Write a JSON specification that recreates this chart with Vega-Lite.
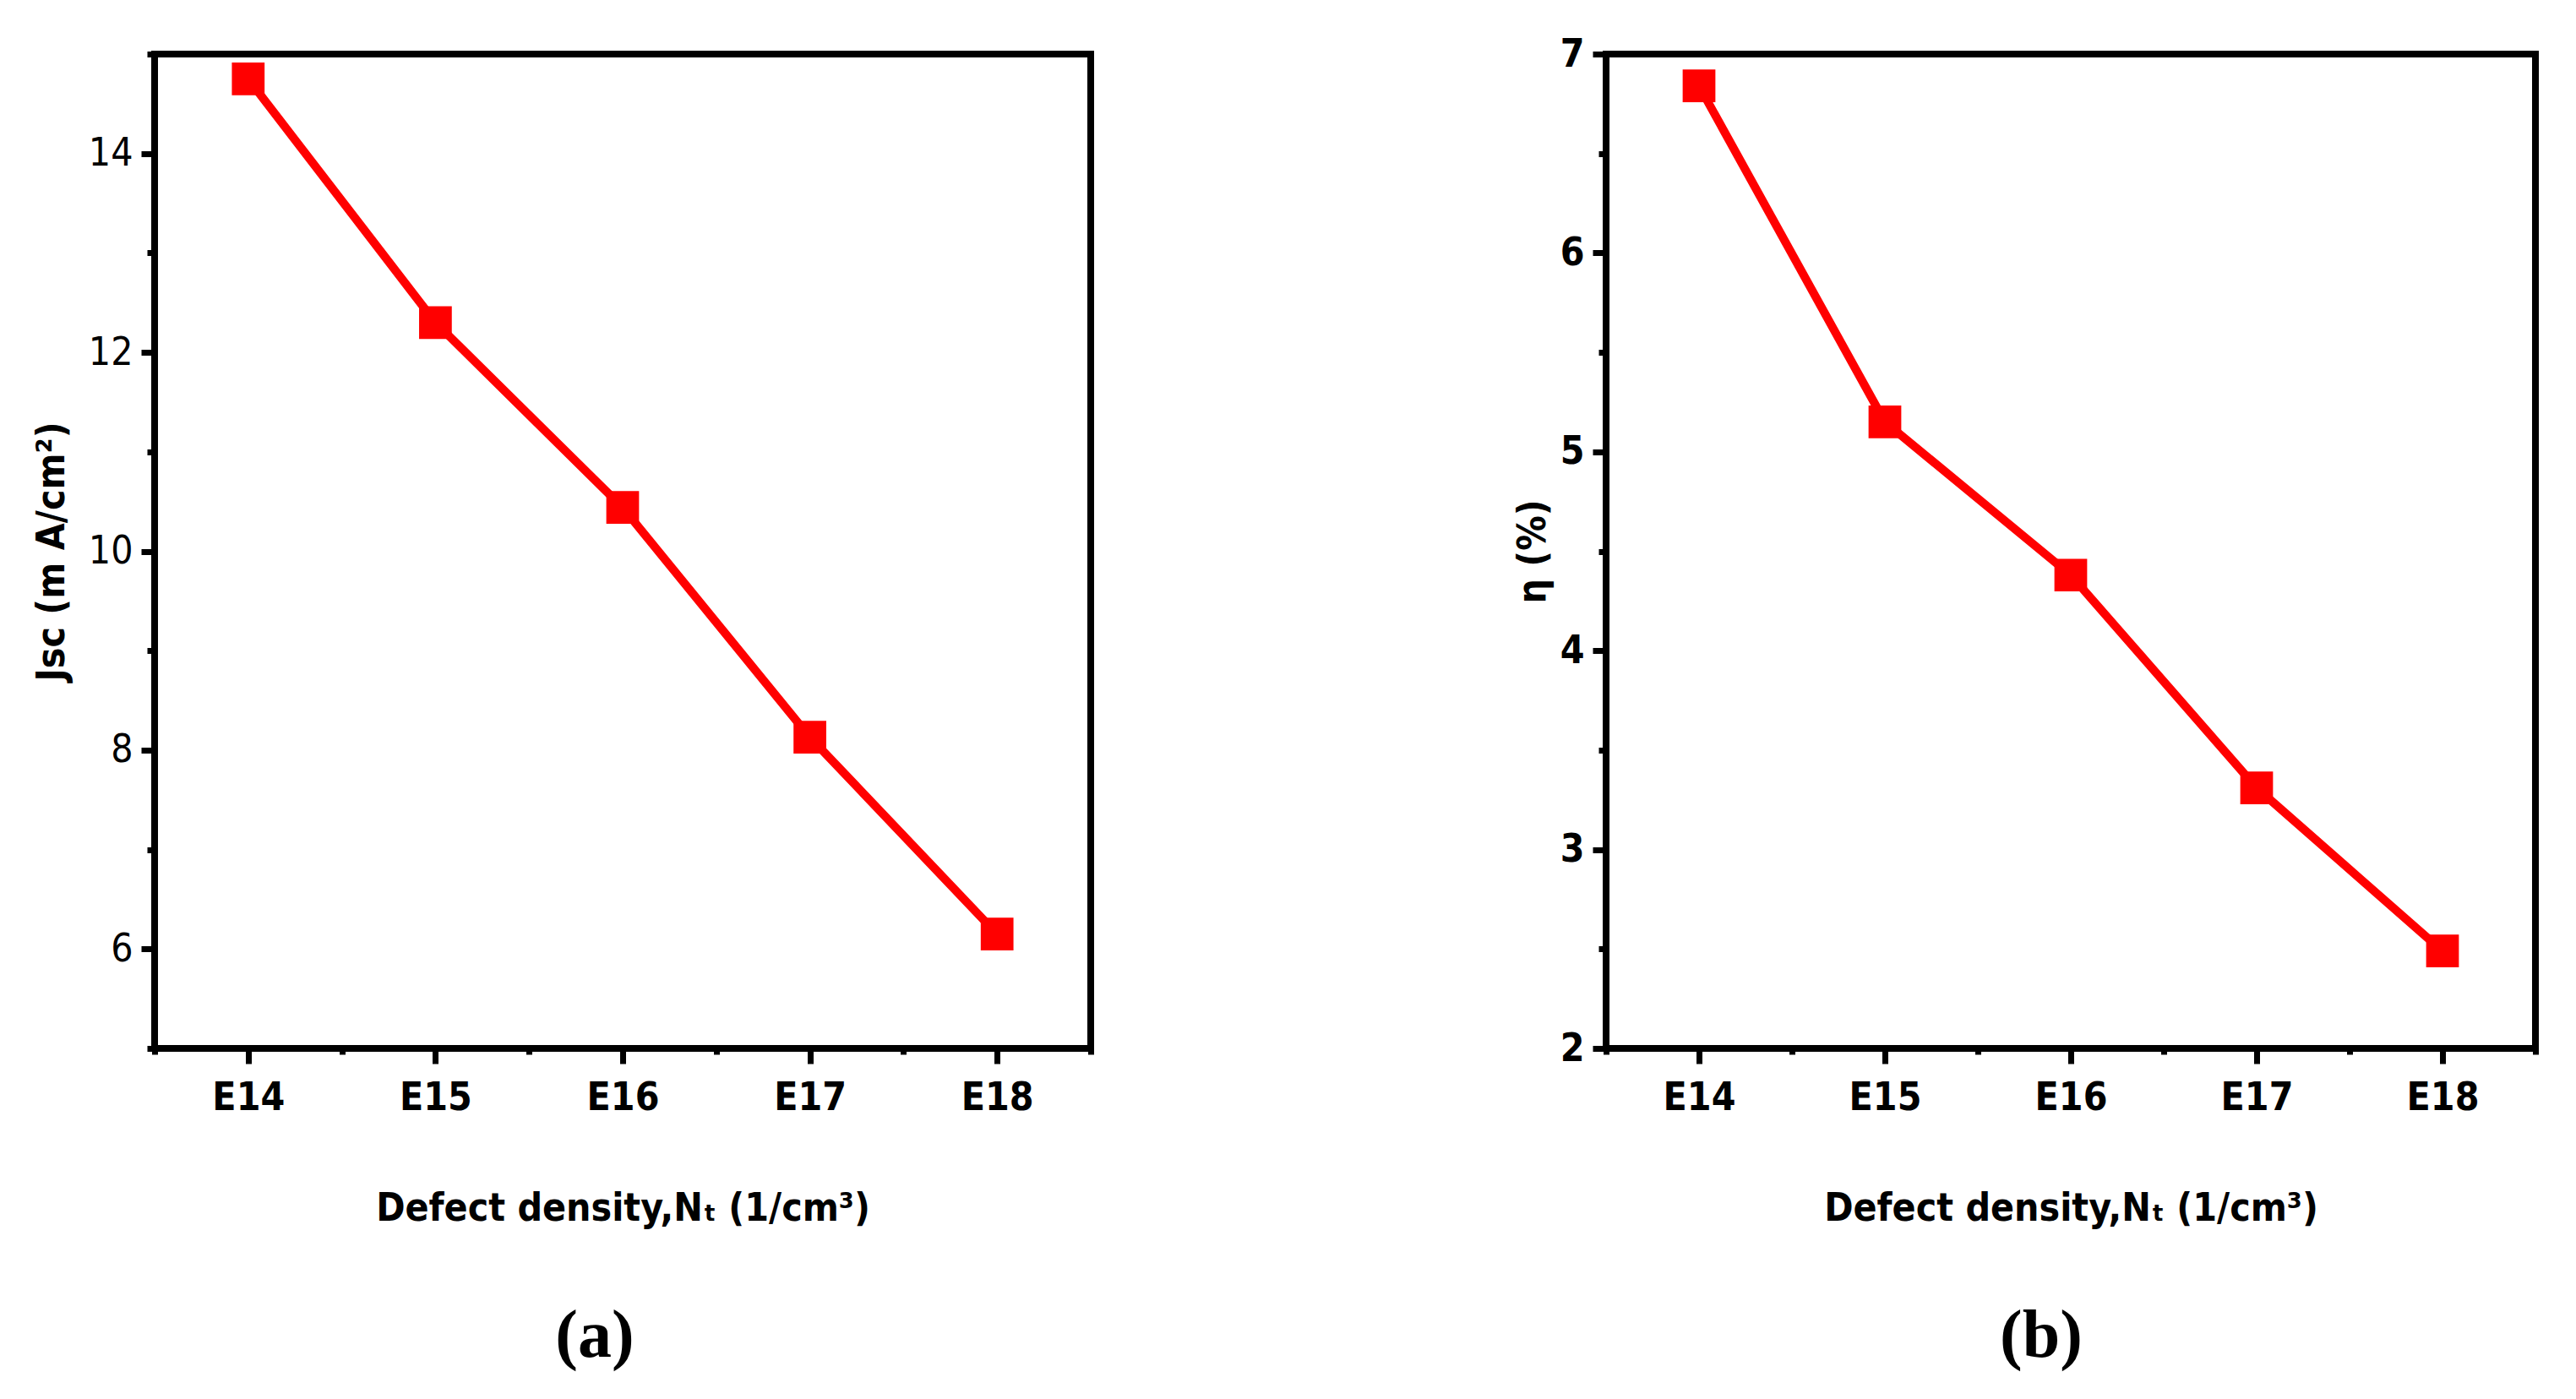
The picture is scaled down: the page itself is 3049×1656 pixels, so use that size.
{
  "$schema": "https://vega.github.io/schema/vega-lite/v6.json",
  "background": "white",
  "padding": {"left": 34, "top": 37, "right": 20, "bottom": 10},
  "datasets": {
    "jsc": [
      {"Nt": 14, "Jsc": 14.75},
      {"Nt": 15, "Jsc": 12.3},
      {"Nt": 16, "Jsc": 10.44},
      {"Nt": 17, "Jsc": 8.13},
      {"Nt": 18, "Jsc": 6.15}
    ],
    "eta": [
      {"Nt": 14, "eta": 6.84},
      {"Nt": 15, "eta": 5.15},
      {"Nt": 16, "eta": 4.38},
      {"Nt": 17, "eta": 3.31},
      {"Nt": 18, "eta": 2.49}
    ]
  },
  "spacing": 488,
  "hconcat": [
    {
      "width": 1108,
      "height": 1177,
      "data": {"name": "jsc"},
      "title": {"text": "(a)", "orient": "bottom", "frame": "group", "anchor": "middle", "dx": -33, "offset": 90},
      "encoding": {
        "x": {
          "field": "Nt", "type": "quantitative",
          "scale": {"domain": [13.5, 18.5], "nice": false},
          "axis": {
            "title": "Defect density,Nₜ (1/cm³)",
            "values": [13.5, 14, 14.5, 15, 15.5, 16, 16.5, 17, 17.5, 18, 18.5],
            "labelExpr": "datum.value % 1 == 0 ? 'E' + datum.value : ''",
            "tickSize": {"condition": {"test": "datum.value % 1 == 0", "value": 18}, "value": 7},
            "labelPadding": 18,
            "titlePadding": 86
          }
        },
        "y": {
          "field": "Jsc", "type": "quantitative",
          "scale": {"domain": [5, 15], "nice": false},
          "axis": {
            "title": "Jsc (m A/cm²)",
            "values": [5, 6, 7, 8, 9, 10, 11, 12, 13, 14, 15],
            "labelExpr": "datum.value % 2 == 0 ? format(datum.value, 'd') : ''",
            "tickSize": {"condition": {"test": "datum.value % 2 == 0", "value": 16}, "value": 9},
            "labelPadding": 10,
            "titlePadding": 19,
            "labelFontWeight": "normal"
          }
        }
      },
      "layer": [
        {"mark": {"type": "line", "color": "#ff0000", "strokeWidth": 10}},
        {"mark": {"type": "square", "color": "#ff0000", "size": 1500, "opacity": 1}}
      ]
    },
    {
      "width": 1100,
      "height": 1177,
      "data": {"name": "eta"},
      "title": {"text": "(b)", "orient": "bottom", "frame": "group", "anchor": "middle", "dx": -35, "offset": 90},
      "encoding": {
        "x": {
          "field": "Nt", "type": "quantitative",
          "scale": {"domain": [13.5, 18.5], "nice": false},
          "axis": {
            "title": "Defect density,Nₜ (1/cm³)",
            "values": [13.5, 14, 14.5, 15, 15.5, 16, 16.5, 17, 17.5, 18, 18.5],
            "labelExpr": "datum.value % 1 == 0 ? 'E' + datum.value : ''",
            "tickSize": {"condition": {"test": "datum.value % 1 == 0", "value": 18}, "value": 7},
            "labelPadding": 18,
            "titlePadding": 86
          }
        },
        "y": {
          "field": "eta", "type": "quantitative",
          "scale": {"domain": [2, 7], "nice": false},
          "axis": {
            "title": "η (%)",
            "values": [2, 2.5, 3, 3.5, 4, 4.5, 5, 5.5, 6, 6.5, 7],
            "labelExpr": "datum.value % 1 == 0 ? format(datum.value, 'd') : ''",
            "tickSize": {"condition": {"test": "datum.value % 1 == 0", "value": 16}, "value": 9},
            "labelPadding": 10,
            "titlePadding": 8,
            "labelFontWeight": "bold"
          }
        }
      },
      "layer": [
        {"mark": {"type": "line", "color": "#ff0000", "strokeWidth": 10}},
        {"mark": {"type": "square", "color": "#ff0000", "size": 1500, "opacity": 1}}
      ]
    }
  ],
  "config": {
    "view": {"stroke": "black", "strokeWidth": 8},
    "axis": {
      "domain": false,
      "grid": false,
      "ticks": true,
      "tickColor": "black",
      "tickWidth": 7,
      "labelFont": "Liberation Sans Narrow, DejaVu Sans Condensed, Roboto",
      "labelFontSize": 46,
      "labelFontWeight": "bold",
      "labelColor": "black",
      "labelFlush": false,
      "labelOverlap": false,
      "titleFont": "Liberation Sans Narrow, DejaVu Sans Condensed, Roboto",
      "titleFontSize": 46,
      "titleFontWeight": "bold",
      "titleColor": "black"
    },
    "title": {
      "font": "Liberation Serif, DejaVu Serif",
      "fontSize": 80,
      "fontWeight": "bold",
      "color": "black"
    }
  }
}
